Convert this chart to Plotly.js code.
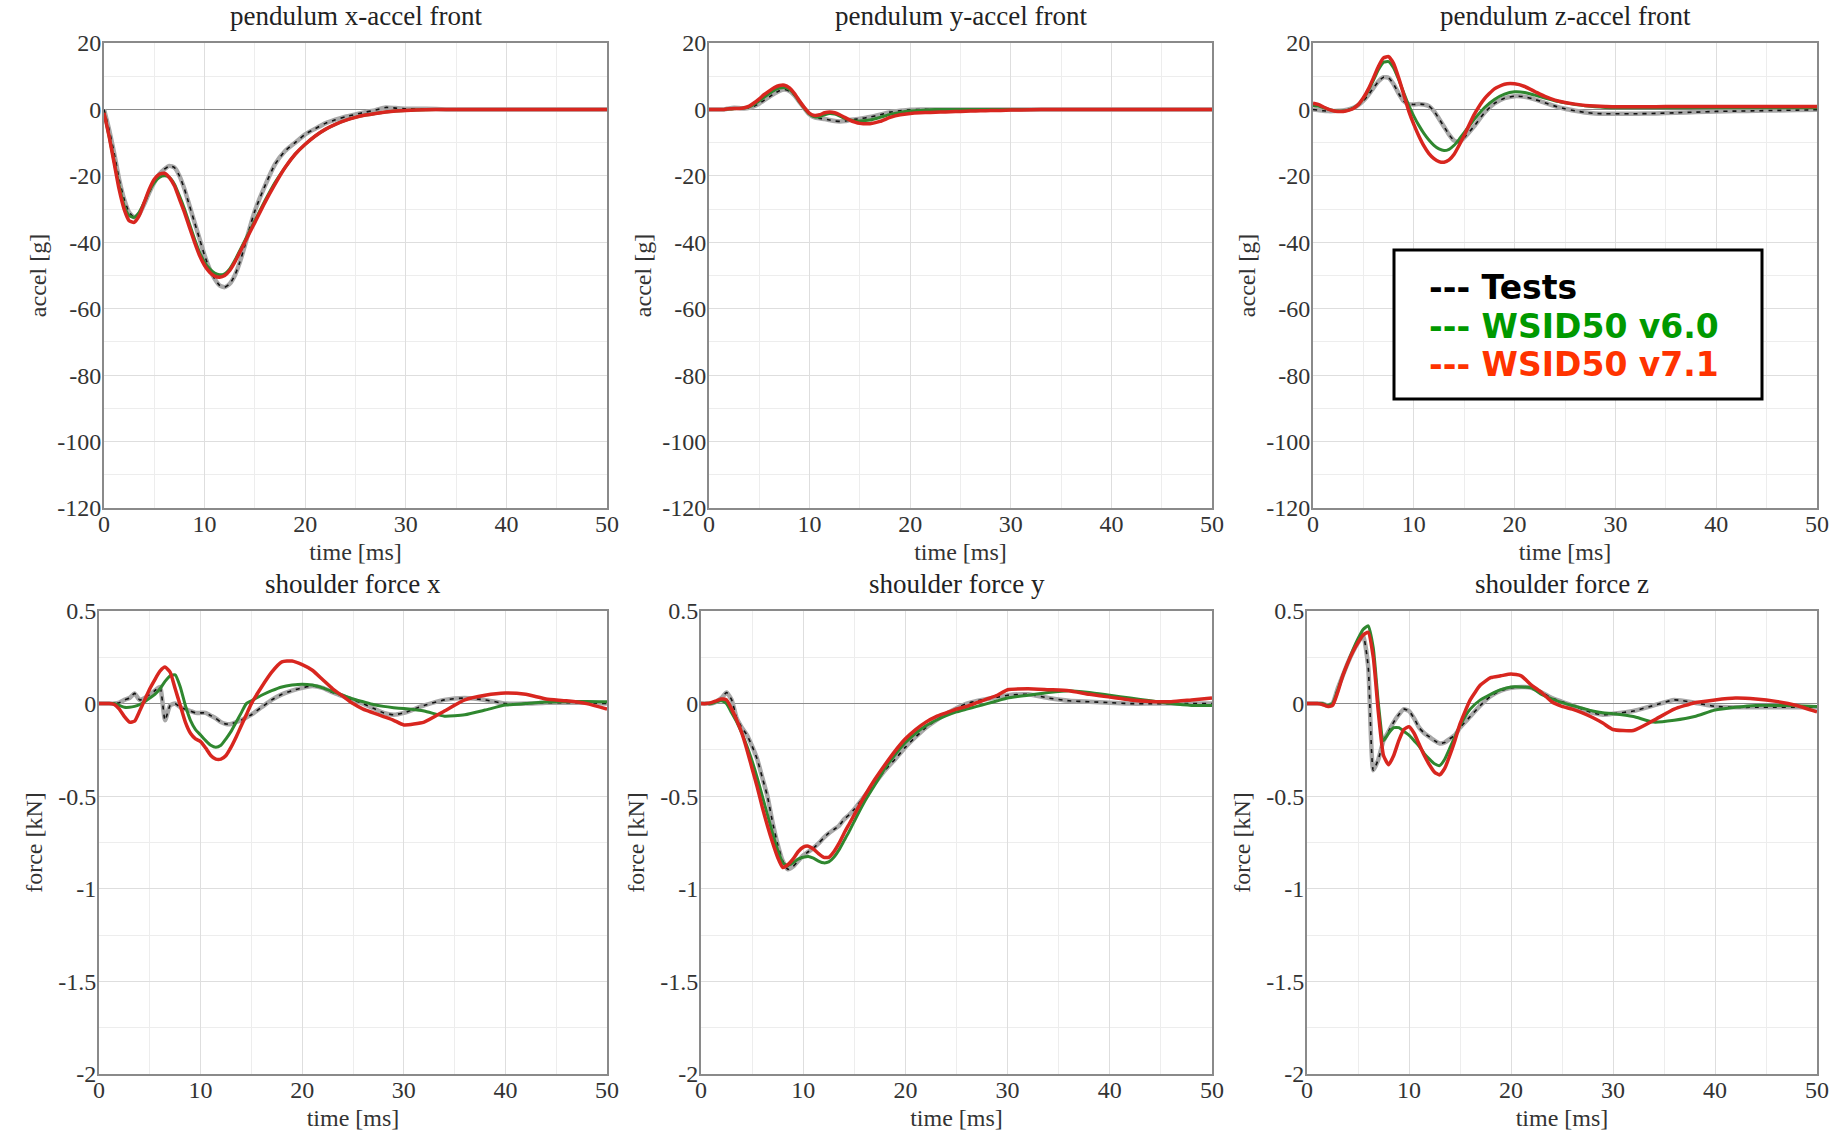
<!DOCTYPE html>
<html><head><meta charset="utf-8">
<script src="https://cdn.plot.ly/plotly-3.0.1.min.js"></script>
<style>html,body{margin:0;padding:0;background:#fff;} #chart{width:1841px;height:1138px;}</style>
</head><body><div id="chart"></div>
<script>
// ---------- DATA ----------
const time = [0,0.5,1,1.5,2,2.5,3,3.5,4,4.5,5,5.5,6,6.5,7,7.5,8,8.5,9,9.5,10,10.5,11,11.5,12,12.5,13,13.5,14,14.5,15,
  16,17,18,19,20,21,22,23,24,25,26,27,28,29,30,32,34,36,38,40,42,44,46,48,50];

const seriesNames = ['Tests', 'WSID50 v6.0', 'WSID50 v7.1'];
const panelTitles = ['pendulum x-accel front', 'pendulum y-accel front', 'pendulum z-accel front',
                     'shoulder force x', 'shoulder force y', 'shoulder force z'];
const xTitle = 'time [ms]';
const yTitles = ['accel [g]', 'force [kN]'];

const xTickVals = [0,10,20,30,40,50];
const xTickText = ['0','10','20','30','40','50'];
const accelTickVals = [-120,-100,-80,-60,-40,-20,0,20];
const accelTickText = ['-120','-100','-80','-60','-40','-20','0','20'];
const forceTickVals = [-2,-1.5,-1,-0.5,0,0.5];
const forceTickText = ['-2','-1.5','-1','-0.5','0','0.5'];

// pendulum x-accel [g]
const accXTests = [0,-6,-13,-21,-27,-31,-32.5,-31.5,-28.5,-25,-22,-19.5,-18,-17,-17.5,-20,-24,-29,-34,-39,-44,-48,-51,-53,-53.5,-52.5,-50,-46,-41,-35.5,-30.5,
  -23,-16.5,-12.5,-10,-7.5,-5.8,-4.2,-3.1,-2.2,-1.5,-0.8,-0.2,0.6,0.4,0.2, 0.2,0,0,0,0,0,0,0,0,0];
const accXV60 = [-1,-8,-15.5,-23,-29,-32,-32.5,-31,-28,-24.5,-22,-20.5,-20,-20.5,-22.5,-26,-30,-34.5,-39,-43,-46,-48,-49.3,-49.8,-49.5,-48,-45.5,-42.5,-39.5,-36.5,-33.5,
  -27.5,-22,-17.5,-13.5,-10.5,-8,-6,-4.5,-3.3,-2.4,-1.7,-1.2,-0.8,-0.5,-0.3, -0.1,0,0,0,0,0,0,0,0,0];
const accXV71 = [-1,-8,-16,-24,-30,-33.5,-34,-32,-28,-24,-21,-19.5,-19.2,-20.5,-23,-27,-31,-35.5,-40,-44,-47,-49,-50.2,-50.5,-50,-48.5,-46,-43,-40,-37,-34,
  -28,-22.5,-17.5,-13.5,-10.5,-8,-6,-4.5,-3.3,-2.4,-1.7,-1.2,-0.8,-0.5,-0.3, -0.1,0,0,0,0,0,0,0,0,0];

// pendulum y-accel [g]
const accYTests = [0,0,0,0,0.3,0.5,0.4,0.3,0.5,1.0,1.8,2.8,3.8,4.8,5.6,6.0,5.5,4.2,2.2,0.2,-1.5,-2.4,-2.7,-2.9,-3.2,-3.5,-3.6,-3.5,-3.2,-3.0,-2.8,
  -2.3,-1.6,-0.8,-0.4,-0.1,0,0,0,0,0,0,0,0,0,0, 0,0,0,0,0,0,0,0,0,0];
const accYV60 = [0,0,0,0,0.1,0.2,0.3,0.4,0.8,1.6,2.6,3.7,4.8,5.8,6.4,6.6,6.0,4.5,2.3,0.3,-1.4,-2.2,-2.2,-1.6,-1.2,-1.4,-2.0,-2.7,-3.2,-3.5,-3.5,
  -3.2,-2.4,-1.5,-0.9,-0.5,-0.3,-0.1,0,0,0,0,0,0,0,0, 0,0,0,0,0,0,0,0,0,0];
const accYV71 = [0,0,0,0,0.2,0.3,0.3,0.5,1,2,3.2,4.5,5.6,6.6,7.2,7.3,6.5,4.8,2.5,0.5,-1.2,-1.8,-1.6,-1.0,-0.8,-1.0,-1.6,-2.4,-3.2,-3.8,-4.2,
  -4.3,-3.6,-2.4,-1.6,-1.2,-1.0,-0.9,-0.8,-0.7,-0.6,-0.5,-0.4,-0.35,-0.3,-0.2, -0.1,0,0,0,0,0,0,0,0,0];

// pendulum z-accel [g]
const accZTests = [0,-0.2,-0.4,-0.5,-0.5,-0.4,-0.3,0,0.5,1.3,2.6,4.4,6.5,8.5,9.7,9.5,7.6,4.8,2.5,1.6,1.5,1.6,1.5,1.0,-0.5,-2.8,-5.2,-7.6,-9.4,-9.8,-8.5,
  -5.0,-1.0,1.8,3.4,4.0,3.8,3.0,2.0,1.0,0.2,-0.4,-0.9,-1.2,-1.3,-1.3, -1.3,-1.2,-1.0,-0.8,-0.6,-0.5,-0.4,-0.3,-0.2,-0.1];
const accZV60 = [1.2,1.0,0.6,0.1,-0.3,-0.5,-0.5,-0.2,0.4,1.5,3.3,5.8,8.8,12,14.2,14.4,12.5,9,5,1.2,-2,-4.8,-7.2,-9.2,-10.8,-11.9,-12.4,-12.0,-10.8,-9.0,-7.0,
  -3,0.5,3.0,4.6,5.3,5.1,4.3,3.4,2.6,2.0,1.5,1.1,0.8,0.6,0.5, 0.5,0.5,0.5,0.5,0.5,0.5,0.5,0.5,0.5,0.5];
const accZV71 = [1.9,1.5,0.8,0.1,-0.4,-0.6,-0.6,-0.3,0.3,1.5,3.5,6.2,9.5,13,15.5,15.9,13.8,9.5,4.5,-0.5,-4.5,-8,-11,-13.3,-14.8,-15.7,-15.9,-15.2,-13.5,-10.8,-7.8,
  -1.5,3.2,6.2,7.6,7.7,6.9,5.4,3.9,2.8,2.1,1.6,1.2,1.0,0.9,0.8, 0.8,0.8,0.9,0.9,0.9,0.9,0.9,0.9,0.9,0.9];

// shoulder force x [kN]
const fXTests = [0,0,0,0,0.005,0.02,0.03,0.055,0.02,0.03,0.05,0.07,0.09,-0.09,-0.01,0.0,-0.02,-0.03,-0.04,-0.05,-0.05,-0.05,-0.065,-0.08,-0.1,-0.11,-0.11,-0.1,-0.09,-0.075,-0.06,
  -0.02,0.02,0.05,0.07,0.085,0.095,0.085,0.06,0.04,0.02,0.0,-0.025,-0.05,-0.06,-0.05, -0.01,0.02,0.03,0.02,0.0,0.0,0.005,0.005,0.005,0.0];
const fXV60 = [0,0,0,0,-0.01,-0.02,-0.02,-0.015,-0.005,0.01,0.03,0.05,0.08,0.12,0.15,0.155,0.09,-0.01,-0.09,-0.14,-0.17,-0.2,-0.225,-0.236,-0.225,-0.19,-0.15,-0.1,-0.05,0.0,0.015,
  0.045,0.07,0.09,0.1,0.105,0.1,0.085,0.065,0.045,0.025,0.01,-0.005,-0.015,-0.022,-0.027, -0.04,-0.068,-0.06,-0.035,-0.008,0.0,0.008,0.01,0.012,0.01];
const fXV71 = [0,0,0,-0.005,-0.03,-0.07,-0.1,-0.095,-0.04,0.02,0.08,0.13,0.175,0.197,0.17,0.08,-0.01,-0.1,-0.16,-0.19,-0.205,-0.24,-0.28,-0.30,-0.30,-0.28,-0.235,-0.18,-0.12,-0.06,0.0,
  0.09,0.17,0.225,0.23,0.21,0.18,0.13,0.08,0.04,0.0,-0.03,-0.05,-0.07,-0.09,-0.115, -0.1,-0.04,0.02,0.045,0.057,0.05,0.025,0.015,0.0,-0.03];

// shoulder force y [kN]
const fYTests = [0,0,0,0.01,0.03,0.06,0.02,-0.08,-0.13,-0.17,-0.23,-0.3,-0.4,-0.5,-0.64,-0.76,-0.85,-0.895,-0.88,-0.85,-0.82,-0.8,-0.78,-0.755,-0.725,-0.7,-0.68,-0.66,-0.625,-0.6,-0.57,
  -0.5,-0.43,-0.36,-0.3,-0.235,-0.18,-0.13,-0.09,-0.055,-0.025,0.0,0.015,0.025,0.035,0.045, 0.05,0.03,0.015,0.01,0.005,0.0,0.0,0.0,0.0,0.0];
const fYV60 = [0,0,0,0.01,0.015,0.0,-0.05,-0.1,-0.16,-0.23,-0.31,-0.4,-0.5,-0.6,-0.7,-0.79,-0.86,-0.875,-0.86,-0.84,-0.83,-0.825,-0.835,-0.85,-0.86,-0.855,-0.83,-0.79,-0.74,-0.69,-0.635,
  -0.53,-0.44,-0.35,-0.275,-0.21,-0.16,-0.12,-0.09,-0.065,-0.045,-0.03,-0.015,0.0,0.015,0.03, 0.045,0.06,0.07,0.06,0.045,0.03,0.015,0.0,-0.01,-0.01];
const fYV71 = [0,0,0.005,0.015,0.025,0.02,-0.03,-0.09,-0.16,-0.25,-0.35,-0.45,-0.56,-0.66,-0.75,-0.83,-0.885,-0.87,-0.84,-0.8,-0.775,-0.77,-0.785,-0.81,-0.83,-0.83,-0.8,-0.755,-0.7,-0.65,-0.6,
  -0.5,-0.41,-0.33,-0.255,-0.19,-0.14,-0.1,-0.07,-0.05,-0.03,-0.015,0.005,0.025,0.045,0.075, 0.08,0.075,0.07,0.05,0.035,0.02,0.012,0.01,0.02,0.03];

// shoulder force z [kN]
const fZTests = [0,0,0,0,-0.01,0.0,0.08,0.15,0.22,0.28,0.33,0.37,0.2,-0.36,-0.3,-0.2,-0.15,-0.1,-0.06,-0.03,-0.04,-0.08,-0.13,-0.16,-0.18,-0.2,-0.215,-0.21,-0.19,-0.17,-0.13,
  -0.07,-0.01,0.04,0.07,0.085,0.09,0.085,0.06,0.03,0.01,-0.01,-0.03,-0.05,-0.06,-0.055, -0.04,-0.01,0.02,0.005,-0.015,-0.02,-0.02,-0.02,-0.02,-0.02];
const fZV60 = [0,0,0,0,-0.01,0.0,0.07,0.15,0.22,0.29,0.35,0.4,0.42,0.3,0.0,-0.2,-0.16,-0.13,-0.13,-0.15,-0.17,-0.2,-0.23,-0.27,-0.3,-0.325,-0.335,-0.3,-0.24,-0.18,-0.12,
  -0.03,0.02,0.05,0.075,0.09,0.09,0.085,0.05,0.025,0.005,-0.01,-0.025,-0.04,-0.05,-0.055, -0.07,-0.1,-0.09,-0.07,-0.035,-0.02,-0.01,-0.01,-0.012,-0.015];
const fZV71 = [0,0,0,-0.005,-0.015,-0.01,0.06,0.15,0.22,0.28,0.33,0.37,0.385,0.25,-0.05,-0.28,-0.33,-0.28,-0.2,-0.14,-0.125,-0.16,-0.22,-0.28,-0.33,-0.37,-0.385,-0.35,-0.28,-0.2,-0.11,
  0.02,0.1,0.14,0.15,0.16,0.15,0.1,0.06,0.01,-0.015,-0.03,-0.05,-0.075,-0.105,-0.14, -0.145,-0.09,-0.03,0.005,0.02,0.03,0.025,0.012,-0.01,-0.045];

const panelData = [
  [accXTests, accXV60, accXV71],
  [accYTests, accYV60, accYV71],
  [accZTests, accZV60, accZV71],
  [fXTests, fXV60, fXV71],
  [fYTests, fYV60, fYV71],
  [fZTests, fZV60, fZV71]
];

// ---------- STYLE / LAYOUT ----------
const W = 1841, H = 1138;
const serif = '"Liberation Serif", "Times New Roman", serif';
// plot areas in pixels [left, right, top, bottom]
const boxes = [
  [104, 607, 43, 508], [709, 1212, 43, 508], [1313, 1817, 43, 508],
  [99, 607, 611, 1074], [701, 1212, 611, 1074], [1307, 1817, 611, 1074]
];

const traces = [];
const layout = {
  width: W, height: H, autosize: false,
  margin: {l: 0, r: 0, t: 0, b: 0, pad: 0},
  paper_bgcolor: '#ffffff', plot_bgcolor: '#ffffff',
  showlegend: false,
  font: {family: serif, color: '#222'},
  annotations: [], shapes: []
};

panelData.forEach((series, i) => {
  const n = i + 1;
  const xa = n === 1 ? 'x' : 'x' + n;
  const ya = n === 1 ? 'y' : 'y' + n;
  const xk = n === 1 ? 'xaxis' : 'xaxis' + n;
  const yk = n === 1 ? 'yaxis' : 'yaxis' + n;
  const b = boxes[i];
  const top = i < 3;

  const sm = {shape: 'spline', smoothing: 0.5};
  traces.push({x: time, y: series[0], xaxis: xa, yaxis: ya, mode: 'lines', name: seriesNames[0],
    line: Object.assign({color: '#a8a8a8', width: 4.5}, sm), hoverinfo: 'skip'});
  traces.push({x: time, y: series[0], xaxis: xa, yaxis: ya, mode: 'lines', name: seriesNames[0],
    line: Object.assign({color: '#111111', width: 1.6, dash: '4px,5px'}, sm), hoverinfo: 'skip'});
  traces.push({x: time, y: series[1], xaxis: xa, yaxis: ya, mode: 'lines', name: seriesNames[1],
    line: Object.assign({color: '#2f872f', width: 3}, sm)});
  traces.push({x: time, y: series[2], xaxis: xa, yaxis: ya, mode: 'lines', name: seriesNames[2],
    line: Object.assign({color: '#d8261f', width: 3.5}, sm)});

  const common = {
    showline: true, mirror: true, linecolor: '#8a8a8a', linewidth: 2,
    showgrid: true, gridcolor: '#dedede', gridwidth: 1,
    ticks: '', automargin: false, fixedrange: true,
    tickfont: {family: serif, size: 24, color: '#333'},
  };
  layout[xk] = Object.assign({}, common, {
    anchor: ya, domain: [b[0] / W, b[1] / W], range: [0, 50],
    tickmode: 'array', tickvals: xTickVals, ticktext: xTickText,
    ticklabelstandoff: -7,
    zeroline: false,
    minor: {tickmode: 'linear', tick0: 0, dtick: 5, showgrid: true, gridcolor: '#ededed', gridwidth: 1, ticks: ''},
    title: {text: xTitle, font: {family: serif, size: 24, color: '#333'}, standoff: 7}
  });
  layout[yk] = Object.assign({}, common, {
    anchor: xa, domain: [1 - b[3] / H, 1 - b[2] / H],
    range: top ? [-120, 20] : [-2, 0.5],
    tickmode: 'array', tickvals: top ? accelTickVals : forceTickVals, ticktext: top ? accelTickText : forceTickText,
    ticklabelstandoff: -4,
    zeroline: true, zerolinecolor: '#8a8a8a', zerolinewidth: 1.5,
    minor: {tickmode: 'linear', tick0: 0, dtick: top ? 10 : 0.25, showgrid: true, gridcolor: '#ededed', gridwidth: 1, ticks: ''},
    title: {text: top ? yTitles[0] : yTitles[1], font: {family: serif, size: 24, color: '#333'}, standoff: top ? 4 : 9}
  });

  layout.annotations.push({
    text: panelTitles[i], xref: 'paper', yref: 'paper',
    x: (b[0] + b[1]) / 2 / W, y: 1 - b[2] / H, xanchor: 'center', yanchor: 'middle', yshift: 27,
    showarrow: false, font: {family: serif, size: 27, color: '#222'}
  });
});

// legend box (drawn in the top-right panel)
const legColors = ['#000000', '#009900', '#ff3300'];
const legBox = [1394, 1762, 250, 399];
layout.shapes.push({
  type: 'rect', xref: 'paper', yref: 'paper', layer: 'above',
  x0: legBox[0] / W, x1: legBox[1] / W, y0: 1 - legBox[3] / H, y1: 1 - legBox[2] / H,
  line: {color: '#000', width: 3}, fillcolor: '#ffffff'
});
seriesNames.forEach((name, k) => {
  layout.annotations.push({
    text: '<b>--- ' + name + '</b>', xref: 'paper', yref: 'paper',
    x: 1427 / W, y: 1 - (287 + 39 * k) / H, xanchor: 'left', yanchor: 'middle',
    showarrow: false, font: {family: '"DejaVu Sans", Verdana, sans-serif', size: 33, color: legColors[k]}
  });
});

Plotly.newPlot('chart', traces, layout, {staticPlot: true, displayModeBar: false});
</script></body></html>
